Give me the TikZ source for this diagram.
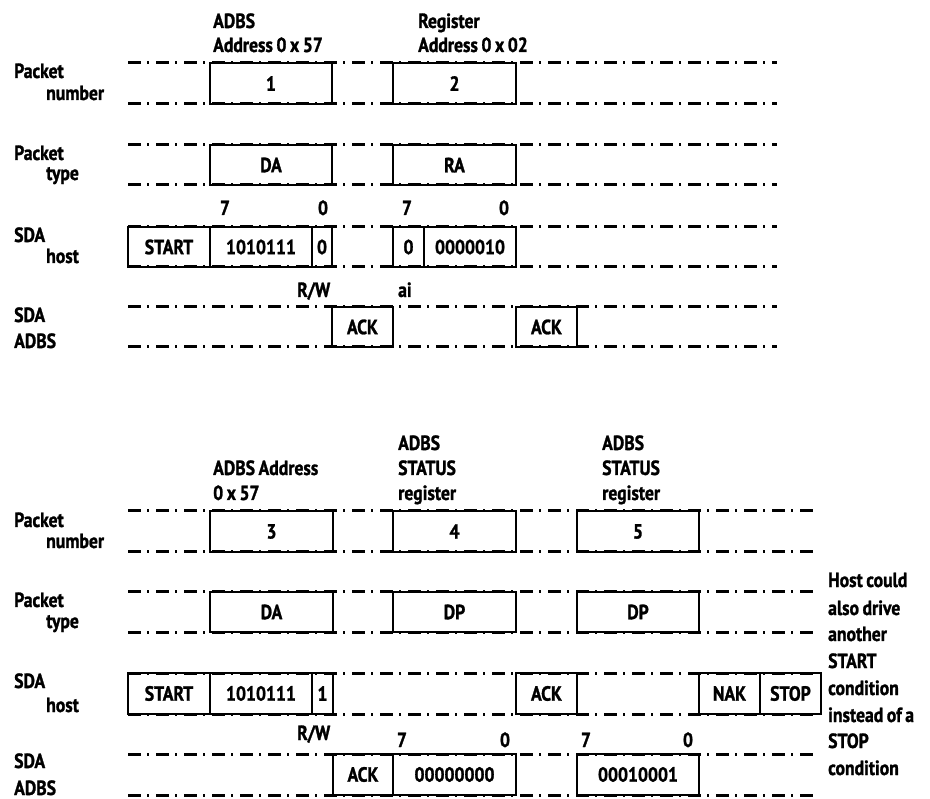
\documentclass[tikz,border=0pt]{standalone}
\usepackage{fontspec}
\newfontfamily\labfam{PT Sans Bold}[FakeStretch=0.86,FakeBold=1.3,WordSpace=0.8]
\newcommand\labfont{\labfam\fontsize{20.5}{24}\selectfont}
\tikzset{
  dd/.style={line width=3pt, dash pattern=on 13pt off 6pt on 2pt off 7pt},
  bx/.style={draw, line width=2pt, inner sep=0pt, outer sep=0pt, font=\labfont},
  lbl/.style={anchor=base west, inner sep=0pt, font=\labfont},
  num/.style={anchor=base, inner sep=0pt, font=\labfont}
}
% box: name, x1, x2, ytop, ybot, text
\newcommand\pbox[6]{\node[bx, minimum width={(#3-#2)*1pt}, minimum height={(#5-#4)*1pt}] (#1) at ({(#2+#3)/2},{(#4+#5)/2}) {#6};}
\newcommand\ddline[4]{\coordinate (#1a) at (128,#2); \coordinate (#1b) at (#3,#2); \draw[dd] (#1a) -- (#1b);}
\begin{document}
\begin{tikzpicture}[x=1pt,y=-1pt]
\useasboundingbox (0,0) rectangle (930,799);
% ---------------- top section ----------------
\foreach \yy [count=\i] in {63,104,145,185,227,267,307,347}{\ddline{t\i}{\yy}{777}}
\pbox{b1}{210}{332}{63}{104}{1}
\pbox{b2}{393}{516}{63}{104}{2}
\pbox{b3}{210}{332}{145}{185}{DA}
\pbox{b4}{393}{516}{145}{185}{RA}
\pbox{b5}{128}{210}{227}{267}{START}
\pbox{b6}{210}{312}{227}{267}{1010111}
\pbox{b7}{312}{332}{227}{267}{0}
\pbox{b8}{393}{424}{227}{267}{0}
\pbox{b9}{424}{516}{227}{267}{0000010}
\pbox{b10}{332}{393}{307}{347}{ACK}
\pbox{b11}{516}{577}{307}{347}{ACK}
\node[lbl] (h1a) at (213,28) {ADBS};
\node[lbl] (h1b) at (213,52) {Address 0 x 57};
\node[lbl] (h2a) at (418,28) {Register};
\node[lbl] (h2b) at (418,52) {Address 0 x 02};
\node[num] (n1) at (225,215) {7};
\node[num] (n2) at (323,215) {0};
\node[num] (n3) at (407,215) {7};
\node[num] (n4) at (504,215) {0};
\node[lbl] (rw1) at (297,297) {R/W};
\node[lbl] (ai) at (398,297) {ai};
\node[lbl] (l1) at (14,78) {Packet};
\node[lbl] (l2) at (46,100) {number};
\node[lbl] (l3) at (14,160) {Packet};
\node[lbl] (l4) at (46,180) {type};
\node[lbl] (l5) at (14,242) {SDA};
\node[lbl] (l6) at (46,263) {host};
\node[lbl] (l7) at (14,322) {SDA};
\node[lbl] (l8) at (14,348) {ADBS};
% ---------------- bottom section ----------------
\foreach \yy [count=\i] in {511,552,592,632,673,714,754,795}{\ddline{u\i}{\yy}{813}}
\pbox{c1}{210}{333}{511}{552}{3}
\pbox{c2}{393}{516}{511}{552}{4}
\pbox{c3}{577}{699}{511}{552}{5}
\pbox{c4}{210}{333}{592}{632}{DA}
\pbox{c5}{393}{516}{592}{632}{DP}
\pbox{c6}{577}{699}{592}{632}{DP}
\pbox{c7}{128}{210}{673}{714}{START}
\pbox{c8}{210}{312}{673}{714}{1010111}
\pbox{c9}{312}{333}{673}{714}{1}
\pbox{c10}{516}{577}{673}{714}{ACK}
\pbox{c11}{699}{760}{673}{714}{NAK}
\pbox{c12}{760}{821}{673}{714}{STOP}
\pbox{c13}{333}{393}{754}{795}{ACK}
\pbox{c14}{393}{516}{754}{795}{00000000}
\pbox{c15}{577}{699}{754}{795}{00010001}
\node[lbl] (g1a) at (213,475) {ADBS Address};
\node[lbl] (g1b) at (213,500) {0 x 57};
\node[lbl] (g2a) at (398,450) {ADBS};
\node[lbl] (g2b) at (398,475) {STATUS};
\node[lbl] (g2c) at (398,500) {register};
\node[lbl] (g3a) at (602,450) {ADBS};
\node[lbl] (g3b) at (602,475) {STATUS};
\node[lbl] (g3c) at (602,500) {register};
\node[num] (m1) at (402,747) {7};
\node[num] (m2) at (505,747) {0};
\node[num] (m3) at (586,747) {7};
\node[num] (m4) at (688,747) {0};
\node[lbl] (rw2) at (297,740) {R/W};
\node[lbl] (k1) at (14,527) {Packet};
\node[lbl] (k2) at (46,548) {number};
\node[lbl] (k3) at (14,607) {Packet};
\node[lbl] (k4) at (46,628) {type};
\node[lbl] (k5) at (14,688) {SDA};
\node[lbl] (k6) at (46,712) {host};
\node[lbl] (k7) at (14,768) {SDA};
\node[lbl] (k8) at (14,795) {ADBS};
\node[lbl] (r1) at (828,587) {Host could};
\node[lbl] (r2) at (828,615) {also drive};
\node[lbl] (r3) at (828,641) {another};
\node[lbl] (r4) at (828,668) {START};
\node[lbl] (r5) at (828,695) {condition};
\node[lbl] (r6) at (828,722) {instead of a};
\node[lbl] (r7) at (828,748) {STOP};
\node[lbl] (r8) at (828,775) {condition};
\end{tikzpicture}
\end{document}
